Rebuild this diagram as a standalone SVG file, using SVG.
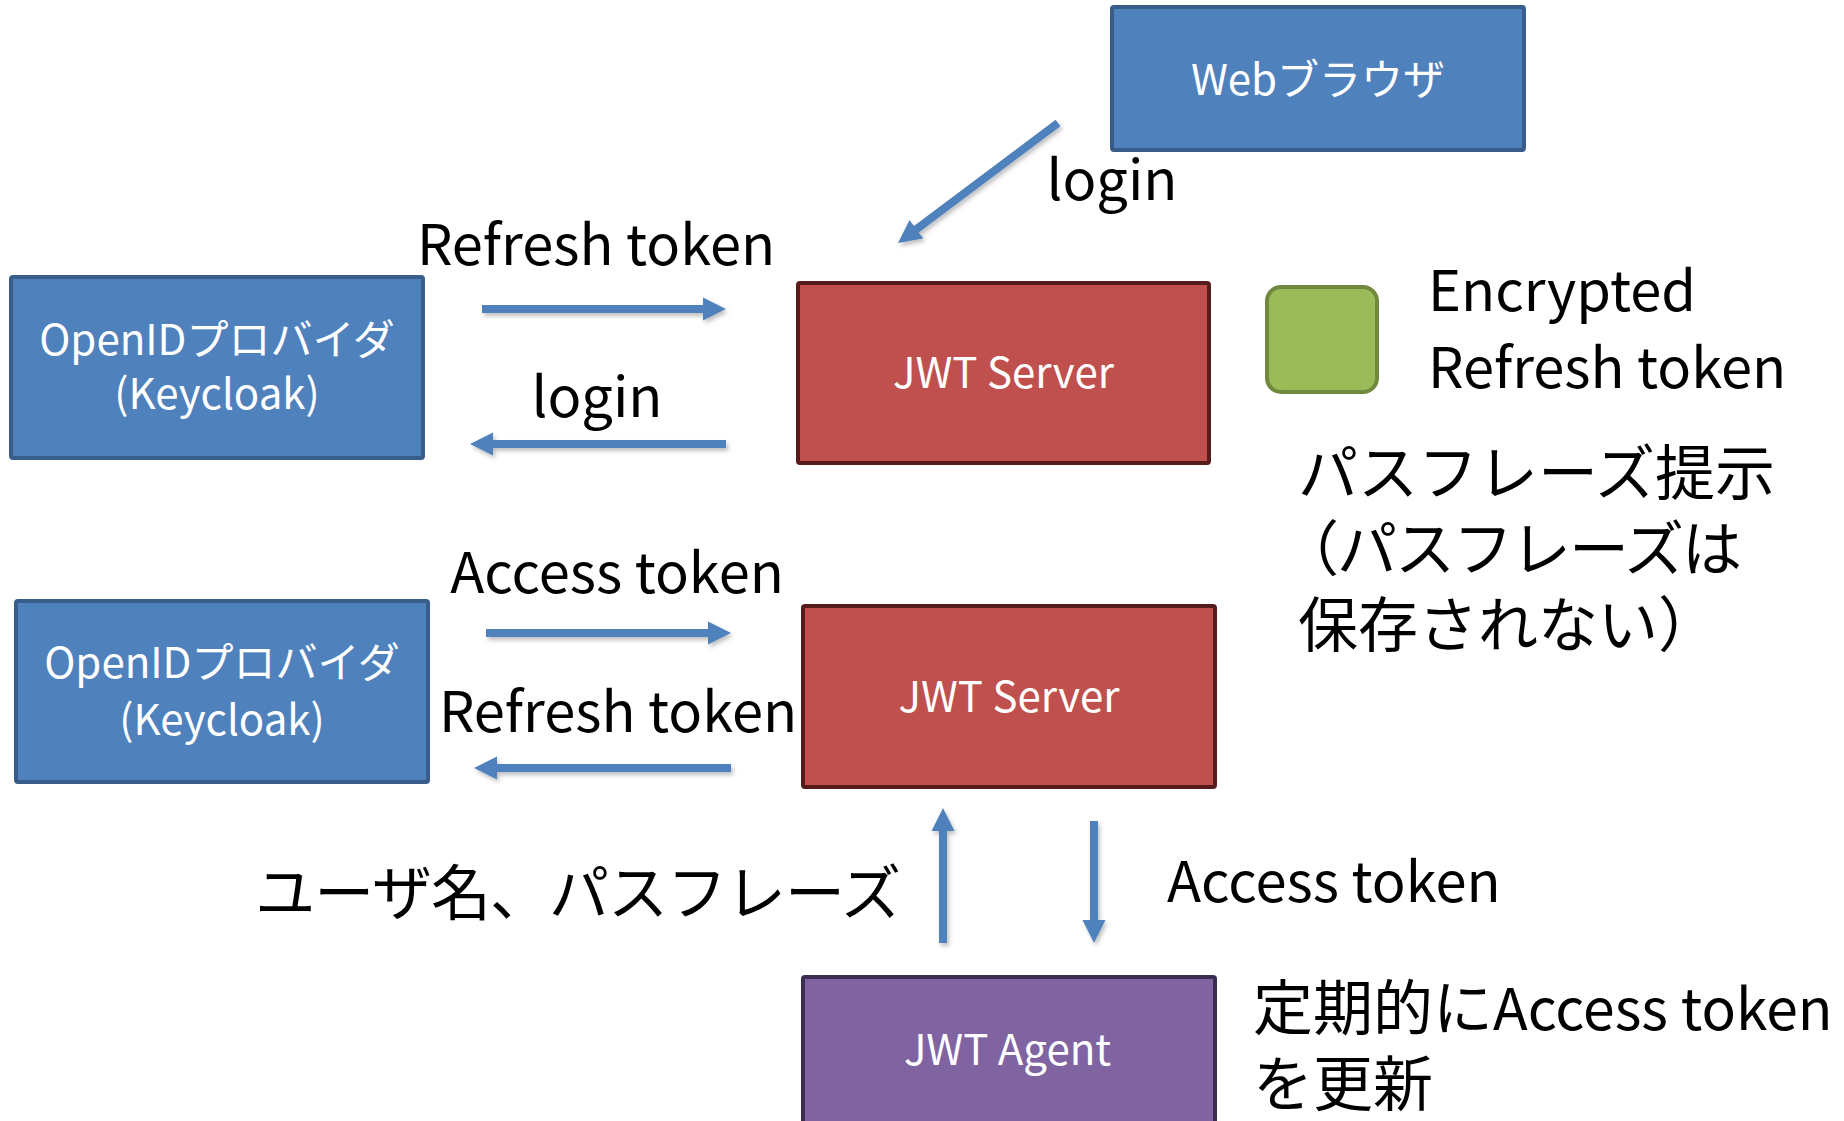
<svg xmlns="http://www.w3.org/2000/svg" width="1844" height="1121" viewBox="0 0 1844 1121">
<style>
  text { font-family: "Noto Sans CJK JP", "Lato", sans-serif; }
  .nl { fill: #ffffff; font-size: 42px; text-anchor: middle; }
  .lb { fill: #000000; font-size: 56px; }
  .jp { fill: #000000; font-size: 60px; }
  .blue { fill: #4F81BD; stroke: #385D8A; stroke-width: 4; }
  .red { fill: #C0504D; stroke: #561C1B; stroke-width: 4; }
  .purple { fill: #8064A2; stroke: #3A2D50; stroke-width: 4; }
  .green { fill: #9BBB59; stroke: #71893F; stroke-width: 4; }
  .arr { stroke: #4F81BD; stroke-width: 8; fill: none; marker-end: url(#ah); }
</style>
<defs>
  <marker id="ah" markerUnits="userSpaceOnUse" markerWidth="24" markerHeight="24" refX="3" refY="12" orient="auto">
    <path d="M0,0.5 L23,12 L0,23.5 Z" fill="#4F81BD"/>
  </marker>
  <filter id="sh" x="-10%" y="-10%" width="130%" height="130%">
    <feDropShadow dx="2" dy="3" stdDeviation="2" flood-color="#000" flood-opacity="0.25"/>
  </filter>
</defs>
<rect width="1844" height="1121" fill="#ffffff"/>

<g id="connectors" filter="url(#sh)">
  <line class="arr" x1="482" y1="309" x2="706" y2="309"/>
  <line class="arr" x1="726" y1="444" x2="490" y2="444"/>
  <line class="arr" x1="486" y1="633" x2="711" y2="633"/>
  <line class="arr" x1="731" y1="768" x2="494" y2="768"/>
  <line class="arr" x1="943" y1="943" x2="943" y2="828"/>
  <line class="arr" x1="1094" y1="821" x2="1094" y2="923"/>
  <line class="arr" x1="1058" y1="123" x2="914" y2="231"/>
</g>

<g id="browser">
  <rect class="blue" x="1112" y="7" width="412" height="143" rx="2"/>
  <text class="nl" x="1318" y="95" font-size="44">Webブラウザ</text>
</g>

<g id="openid1">
  <rect class="blue" x="11" y="277" width="412" height="181" rx="2"/>
  <text class="nl" x="217" y="355" font-size="43">OpenIDプロバイダ</text>
  <text class="nl" x="217" y="409" font-size="41">(Keycloak)</text>
</g>

<g id="jwtserver1">
  <rect class="red" x="798" y="283" width="411" height="180" rx="2"/>
  <text class="nl" x="1003.5" y="388">JWT Server</text>
</g>

<g id="legend">
  <rect class="green" x="1267" y="287" width="110" height="105" rx="14"/>
</g>

<g id="openid2">
  <rect class="blue" x="16" y="601" width="412" height="181" rx="2"/>
  <text class="nl" x="222" y="678" font-size="43">OpenIDプロバイダ</text>
  <text class="nl" x="222" y="735" font-size="41">(Keycloak)</text>
</g>

<g id="jwtserver2">
  <rect class="red" x="803" y="606" width="412" height="181" rx="2"/>
  <text class="nl" x="1009" y="712">JWT Server</text>
</g>

<g id="jwtagent">
  <rect class="purple" x="803" y="977" width="412" height="160" rx="2"/>
  <text class="nl" x="1007.5" y="1065">JWT Agent</text>
</g>

<g id="labels">
  <text class="lb" x="1112" y="200" text-anchor="middle">login</text>
  <text class="lb" x="596" y="265" text-anchor="middle">Refresh token</text>
  <text class="lb" x="597" y="417" text-anchor="middle">login</text>
  <text class="lb" x="617" y="593" text-anchor="middle">Access token</text>
  <text class="lb" x="618" y="732" text-anchor="middle">Refresh token</text>
  <text class="jp" x="900" y="915" text-anchor="end" font-size="59" letter-spacing="-1">ユーザ名、パスフレーズ</text>
  <text class="lb" x="1167" y="902">Access token</text>
  <text class="lb" x="1428" y="311">Encrypted</text>
  <text class="lb" x="1428" y="388">Refresh token</text>
  <text class="jp" x="1298" y="495">パスフレーズ提示</text>
  <text class="jp" x="1279" y="571" letter-spacing="-2">（パスフレーズは</text>
  <text class="jp" x="1298" y="647">保存されない）</text>
  <text class="jp" x="1253" y="1030">定期的に<tspan font-size="57">Access token</tspan></text>
  <text class="jp" x="1253" y="1106">を更新</text>
</g>
</svg>
